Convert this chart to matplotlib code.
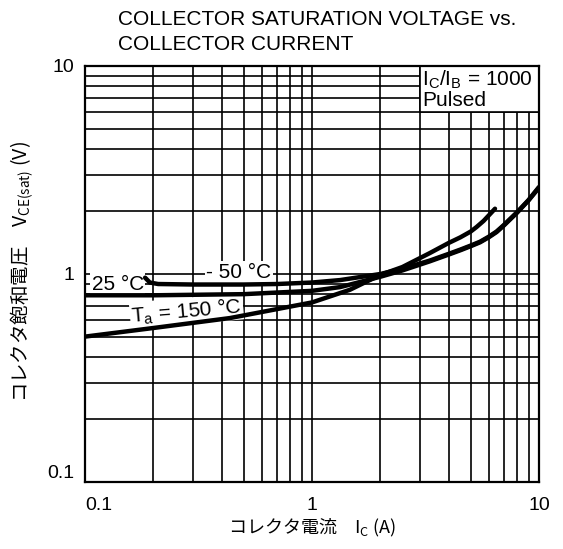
import matplotlib
matplotlib.use("Agg")
import matplotlib.pyplot as plt
from matplotlib.patches import Rectangle
from matplotlib.ticker import FixedLocator, NullFormatter

plt.rcParams['font.family'] = ['Liberation Sans', 'Noto Sans CJK JP', 'DejaVu Sans']
plt.rcParams['mathtext.fontset'] = 'custom'
plt.rcParams['mathtext.rm'] = 'Liberation Sans'

# ---- data ----
ic_m50 = [0.184, 0.193, 0.21, 0.3, 0.5, 0.7, 1.0, 1.33, 2.0, 2.5, 3.3, 4.0, 4.5, 5.0,
          5.5, 6.0, 6.5, 7.0, 8.0, 9.0, 10.0]
v_m50 = [0.96, 0.91, 0.895, 0.89, 0.89, 0.895, 0.91, 0.935, 1.0, 1.06, 1.16, 1.25, 1.31, 1.37,
         1.43, 1.51, 1.60, 1.72, 1.98, 2.27, 2.62]

ic_25 = [0.1, 0.2, 0.5, 1.0, 1.33, 2.0, 2.5, 3.3, 4.0, 4.5, 5.0,
         5.5, 6.0, 6.5, 7.0, 8.0, 9.0, 10.0]
v_25 = [0.79, 0.79, 0.80, 0.83, 0.865, 0.97, 1.04, 1.15, 1.24, 1.30, 1.36,
        1.42, 1.50, 1.59, 1.71, 1.97, 2.26, 2.60]

ic_150 = [0.1, 0.2, 0.435, 1.0, 1.47, 2.0, 2.5, 3.3, 4.0, 4.5, 5.0, 5.3, 5.7, 6.0, 6.4]
v_150 = [0.50, 0.55, 0.614, 0.73, 0.84, 0.99, 1.08, 1.26, 1.41, 1.50, 1.60, 1.68, 1.80, 1.91, 2.06]

x_ticks = [0.1, 1, 10]
x_ticklabels = ['0.1', '1', '10']
y_ticks = [0.1, 1, 10]
y_ticklabels = ['0.1', '1', '10']

title = "COLLECTOR SATURATION VOLTAGE vs.\nCOLLECTOR CURRENT"
xlabel = "コレクタ電流　I$_\\mathregular{C}$ (A)"
ylabel = "コレクタ飽和電圧　V$_\\mathregular{CE(sat)}$ (V)"

fig = plt.figure(figsize=(5.63, 5.49), dpi=100)
ax = fig.add_axes([85/563, 67/549, 454/563, 416/549])
ax.set_xscale('log')
ax.set_yscale('log')
ax.set_xlim(0.1, 10)
ax.set_ylim(0.1, 10)

minors = [m * 10.0**e for e in (-1, 0) for m in range(2, 10)]
ax.xaxis.set_minor_locator(FixedLocator(minors))
ax.yaxis.set_minor_locator(FixedLocator(minors))
ax.xaxis.set_minor_formatter(NullFormatter())
ax.yaxis.set_minor_formatter(NullFormatter())
ax.set_xticks(x_ticks)
ax.set_xticklabels(x_ticklabels)
ax.set_yticks(y_ticks)
ax.set_yticklabels(y_ticklabels)
ax.tick_params(which='both', length=0, labelsize=14)
ax.tick_params(axis='x', pad=11)
ax.tick_params(axis='y', pad=8)
ax.grid(which='both', color='black', linewidth=1.2, zorder=0.5)
ax.set_axisbelow(True)
for s in ax.spines.values():
    s.set_linewidth(1.6)
    s.set_zorder(5)

xl = ax.get_xticklabels()
xl[0].set_horizontalalignment('left')
yl = ax.get_yticklabels()
yl[0].set_verticalalignment('bottom')

lw = 3.2
ax.plot(ic_25, v_25, color='black', lw=lw, zorder=3, solid_capstyle='round')
ax.plot(ic_m50, v_m50, color='black', lw=lw, zorder=3, solid_capstyle='round')
ax.plot(ic_150, v_150, color='black', lw=lw, zorder=3, solid_capstyle='round')

# condition box in upper right
ax.add_patch(Rectangle((3, 6), 7, 4, facecolor='white', edgecolor='black',
                       linewidth=1.2, zorder=2))
ax.text(0.742, 0.995, "I$_\\mathregular{C}$/I$_\\mathregular{B}$ = 1000\nPulsed",
        transform=ax.transAxes, ha='left', va='top', fontsize=15,
        linespacing=1.0, zorder=4)

bbox = dict(facecolor='white', edgecolor='none', pad=1.0)
ax.text(0.107, 0.893, "25 °C", ha='left', va='center', fontsize=15, bbox=bbox, zorder=2.5)
ax.text(0.475, 1.02, "- 50 °C", ha='center', va='center', fontsize=15, bbox=bbox, zorder=2.5)
ax.text(0.28, 0.664, "T$_\\mathregular{a}$ = 150 °C", ha='center', va='center', fontsize=15,
        rotation=5, bbox=bbox, zorder=2.5)

fig.text(118/563, 1 - 10/549, title, ha='left', va='top', fontsize=15, linespacing=1.38)
cjk = ['Noto Sans CJK JP']
fig.text(312/563, 1 - 528/549, xlabel, ha='center', va='center', fontsize=13, family=cjk)
fig.text(22/563, 1 - 272/549, ylabel, ha='center', va='center', fontsize=14, rotation=90,
         family=cjk)

fig.savefig('out.png', dpi=100, facecolor='white')
